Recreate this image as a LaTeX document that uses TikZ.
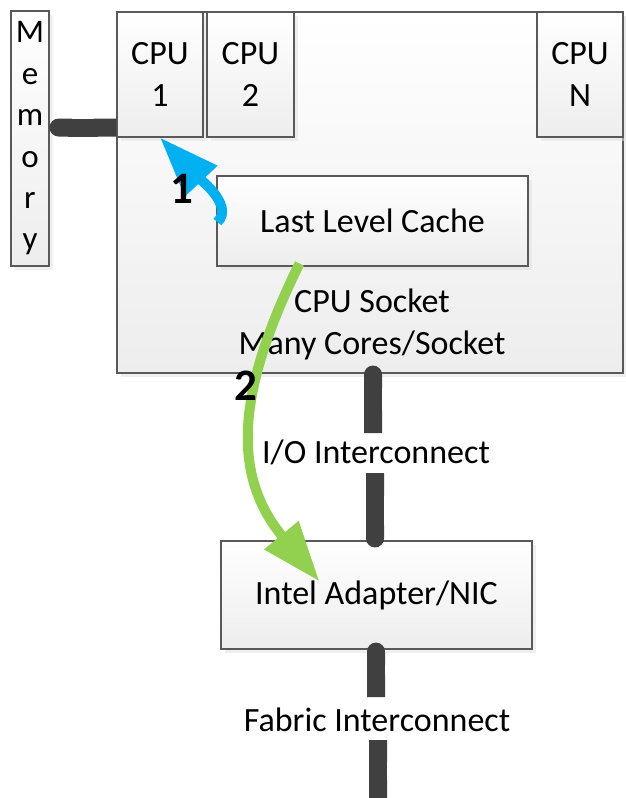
\documentclass[tikz,border=0pt]{standalone}
\usepackage{fontspec}
\setmainfont{Carlito}
\usetikzlibrary{arrows.meta,shadows,calc}
\definecolor{bord}{HTML}{595959}
\definecolor{busc}{HTML}{404040}
\definecolor{bluearr}{HTML}{00B0F0}
\definecolor{greenarr}{HTML}{92D050}
\tikzset{
  box/.style={draw=bord, line width=1.1pt, top color=white, bottom color=black!7,
    drop shadow={shadow xshift=4pt, shadow yshift=-4pt, fill=black!12},
    inner sep=0pt, font=\fontsize{34}{42}\selectfont, align=center},
  lbl/.style={font=\fontsize{34}{42}\selectfont, align=center, inner sep=0pt},
  bus/.style={draw=busc, line width=18pt},
  num/.style={font=\fontsize{45}{45}\selectfont\bfseries, inner sep=0pt},
  flow/.style={line width=10pt, -{Triangle[length=60pt,width=42pt]}},
}
\begin{document}
\begin{tikzpicture}[x=1pt,y=-1pt]
\useasboundingbox (0,0) rectangle (625,798);
% boxes
\node[box, minimum width=506pt, minimum height=361pt] (socket) at (370,192.5) {};
\node[box, minimum width=311pt, minimum height=90pt] (llc) at (372.5,221) {Last Level Cache};
\node[box, minimum width=86pt, minimum height=125pt] (cpu1) at (160,74.5) {CPU\\1};
\node[box, minimum width=87pt, minimum height=125pt] (cpu2) at (250.5,74.5) {CPU\\2};
\node[box, minimum width=86pt, minimum height=125pt] (cpuN) at (580,74.5) {CPU\\N};
\node[box, minimum width=38pt, minimum height=255pt, font=\fontsize{33}{41.4}\selectfont] (mem) at (30,138.5) {M\\e\\m\\o\\r\\y};
\node[box, minimum width=311pt, minimum height=108pt] (nic) at (376.5,595) {Intel Adapter/NIC};
% labels
\node[lbl] (socklabel) at (372,324) {CPU Socket\\Many Cores/Socket};
\node[lbl] (iolabel) at (376,452) {I/O Interconnect};
\node[lbl] (fablabel) at (377,720) {Fabric Interconnect};
% buses
\coordinate (membar) at ($(cpu1.south west)+(0,-10)$);
\draw[bus, {Round Cap[]}-{Butt Cap[]}] (mem.east |- membar) -- (membar);
\draw[bus, {Round Cap[]}-{Butt Cap[]}] ($(socket.south -| iolabel)+(-3,-8)$) -- ($(iolabel.center)+(-3,-19)$);
\draw[bus, {Butt Cap[]}-{Round Cap[]}] ($(iolabel.center)+(-1,21)$) -- ($(nic.north)+(-1.5,7)$);
\draw[bus, {Round Cap[]}-{Butt Cap[]}] ($(nic.south)+(-0.5,-7)$) -- ($(fablabel.center)+(-1,-23)$);
\coordinate (fabend) at ($(fablabel.center)+(1,82)$);
\draw[bus, {Butt Cap[]}-{Butt Cap[]}] ($(fablabel.center)+(1,20)$) -- (fabend);
% flows
\draw[flow, draw=bluearr] ($(llc.west)+(1,1)$) .. controls +(18,-17) and +(35,37) .. (cpu1.south);
\coordinate (nictip) at ($(nic.north west)+(99,41)$);
\draw[flow, draw=greenarr] ($(llc.south west)+(83,-3)$) .. controls +(-68,138) and +(-84,-102) .. (nictip);
\node[num] (n1) at (182,189) {1};
\node[num] (n2) at (246,386) {2};
\end{tikzpicture}
\end{document}
